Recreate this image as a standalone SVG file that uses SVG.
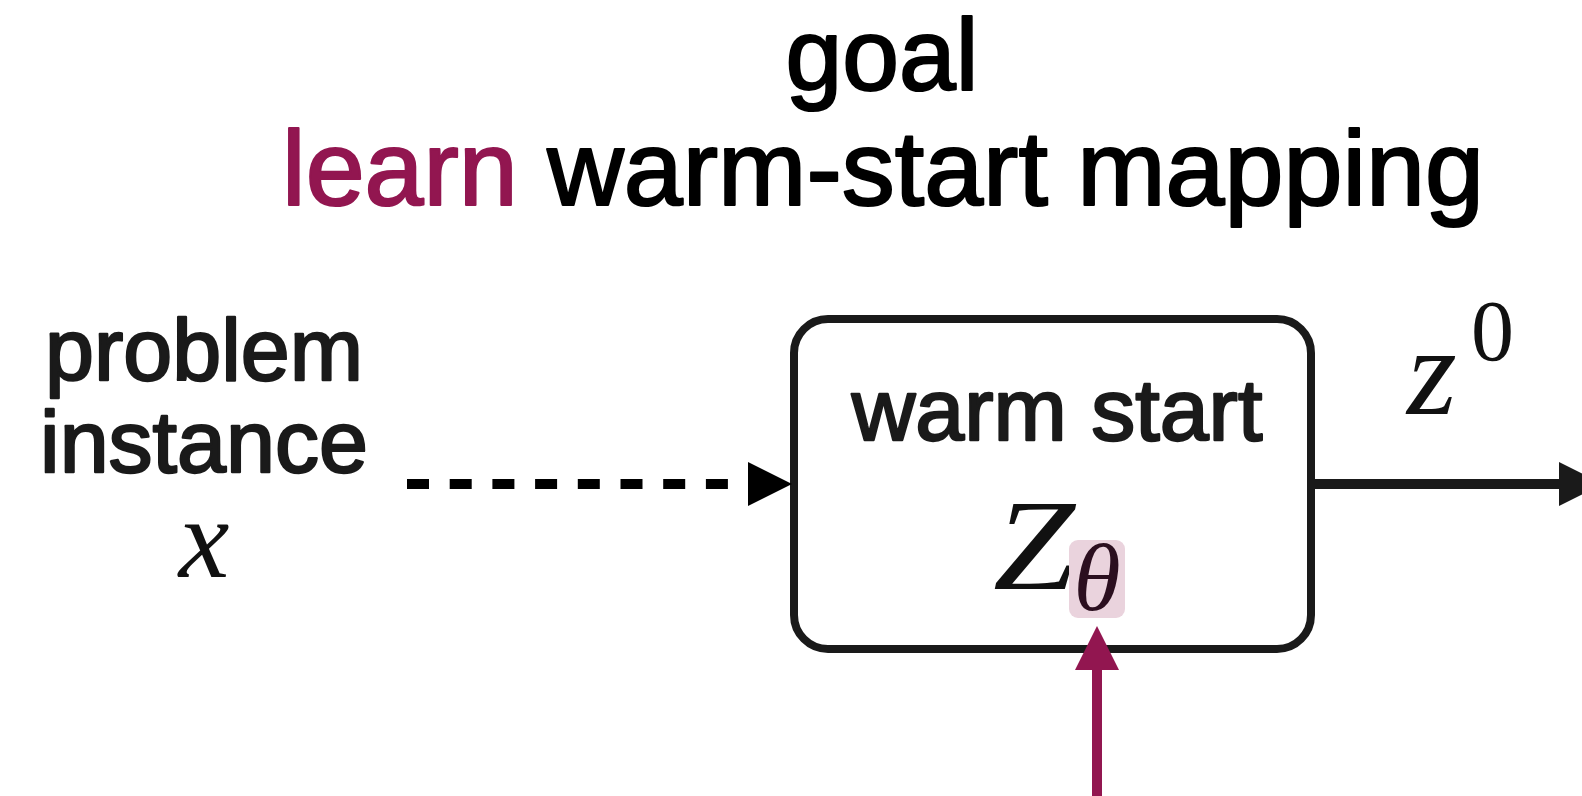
<svg xmlns="http://www.w3.org/2000/svg" width="1582" height="796" viewBox="0 0 1582 796">
  <style>
    .sans { font-family: "Liberation Sans", Arial, Helvetica, sans-serif; fill: #1a1a1a; stroke: #1a1a1a; stroke-width: 2.4; stroke-linejoin: round; }
    .title { font-family: "Liberation Sans", Arial, Helvetica, sans-serif; fill: #000000; stroke: #000000; stroke-width: 2.2; stroke-linejoin: round; }
    .math { font-family: "Liberation Serif", "DejaVu Serif", serif; font-style: italic; fill: #111111; }
    .upright { font-family: "Liberation Serif", "DejaVu Serif", serif; fill: #111111; }
    .accent { fill: #921650; stroke: #921650; }
  </style>
  <rect width="1582" height="796" fill="#ffffff"/>

  <!-- heading -->
  <g id="heading">
    <text class="title" x="882" y="90" font-size="102" text-anchor="middle">goal</text>
    <text class="title" x="883" y="205" font-size="106" text-anchor="middle"><tspan class="accent">learn</tspan> warm-start mapping</text>
  </g>

  <!-- input label -->
  <g id="input">
    <text class="sans" x="204" y="380" font-size="88" text-anchor="middle">problem</text>
    <text class="sans" x="204" y="472" font-size="88" text-anchor="middle">instance</text>
    <text class="math" x="204" y="577" font-size="114" text-anchor="middle">x</text>
  </g>

  <!-- warm start block -->
  <g id="warmstart">
    <rect x="794" y="319" width="517" height="330" rx="34" ry="34" fill="#ffffff" stroke="#1a1a1a" stroke-width="8"/>
    <text class="sans" x="1057" y="440" font-size="88" text-anchor="middle">warm start</text>
    <text class="math" x="993" y="589" font-size="130" textLength="82" lengthAdjust="spacingAndGlyphs">Z</text>
    <rect x="1069" y="540" width="56" height="78" rx="9" ry="9" fill="#ead3dd"/>
    <text class="math" x="1097" y="610" font-size="96" text-anchor="middle" style="fill:#2b0f1f">θ</text>
  </g>

  <!-- output label -->
  <g id="output">
    <text class="math" x="1407" y="414" font-size="128">z</text>
    <text class="upright" x="1471" y="360" font-size="86">0</text>
  </g>

  <!-- connectors -->
  <g id="connectors">
    <line x1="407" y1="484" x2="748" y2="484" stroke="#000000" stroke-width="10" stroke-dasharray="22 20.7"/>
    <polygon points="748,462 792,484 748,506" fill="#000000"/>
    <line x1="1315" y1="484" x2="1560" y2="484" stroke="#1a1a1a" stroke-width="10"/>
    <polygon points="1559,462 1603,484 1559,506" fill="#1a1a1a"/>
    <line x1="1097" y1="668" x2="1097" y2="796" stroke="#921650" stroke-width="10"/>
    <polygon points="1075,670 1097,626 1119,670" fill="#921650"/>
  </g>
</svg>
